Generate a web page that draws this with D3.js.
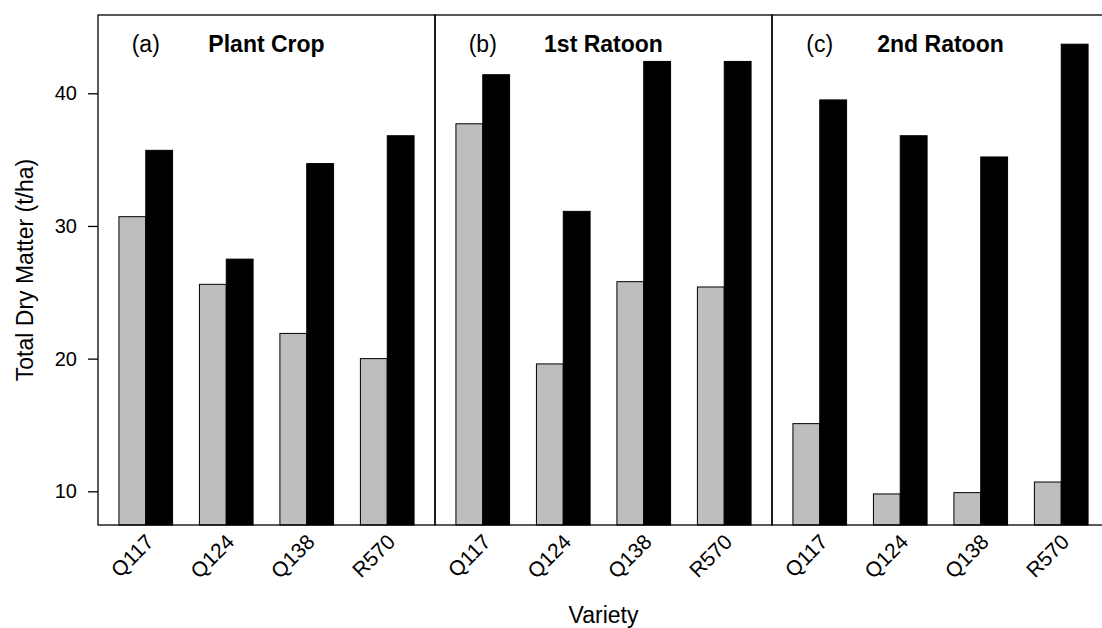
<!DOCTYPE html>
<html>
<head>
<meta charset="utf-8">
<script src="https://cdn.jsdelivr.net/npm/d3@7"></script>
<style>
  html, body { margin: 0; padding: 0; background: #fff; }
  svg { display: block; font-family: "Liberation Sans", Arial, sans-serif; }
</style>
</head>
<body>
<svg id="chart" width="1102" height="628"></svg>
<script>
// Total dry matter (t/ha) by variety for the plant crop and two ratoons
const varieties = ["Q117", "Q124", "Q138", "R570"];
const panels = ["Plant Crop", "1st Ratoon", "2nd Ratoon"];
const panelTags = ["(a)", "(b)", "(c)"];
const series = ["grey", "black"];
const greyValues = [
  [30.7, 25.6, 21.9, 20.0],
  [37.7, 19.6, 25.8, 25.4],
  [15.1, 9.8, 9.9, 10.7]
];
const blackValues = [
  [35.7, 27.5, 34.7, 36.8],
  [41.4, 31.1, 42.4, 42.4],
  [39.5, 36.8, 35.2, 43.7]
];
const yTicks = [10, 20, 30, 40];
const yLimits = [7.46, 45.9];

const svg = d3.select("#chart");
const plotTop = 15, plotBottom = 525, plotLeft = 98, panelW = 337;
const fills = { grey: "#bebebe", black: "#000000" };

const y = d3.scaleLinear().domain(yLimits).range([plotBottom, plotTop]);
const panelX = d3.scaleBand().domain(panels)
  .range([plotLeft, plotLeft + panelW * panels.length]).padding(0);
const groupX = d3.scaleBand().domain(varieties)
  .range([0, panelW]).paddingInner(1 / 3).paddingOuter(0.26);
const barX = d3.scaleBand().domain(series).range([0, groupX.bandwidth()]);

panels.forEach((p, i) => {
  const g = svg.append("g").attr("transform", `translate(${panelX(p)},0)`);
  const rows = varieties.map((v, j) => ({
    variety: v,
    vals: [{ s: "grey", v: greyValues[i][j] }, { s: "black", v: blackValues[i][j] }]
  }));

  const grp = g.selectAll("g.grp").data(rows).join("g")
    .attr("class", "grp")
    .attr("transform", d => `translate(${groupX(d.variety)},0)`);
  grp.selectAll("rect").data(d => d.vals).join("rect")
    .attr("x", d => barX(d.s))
    .attr("width", barX.bandwidth())
    .attr("y", d => y(d.v))
    .attr("height", d => plotBottom - y(d.v))
    .attr("fill", d => fills[d.s])
    .attr("stroke", "#000")
    .attr("stroke-width", 1);

  // panel frame
  g.append("rect")
    .attr("x", 0).attr("y", plotTop)
    .attr("width", panelW).attr("height", plotBottom - plotTop)
    .attr("fill", "none").attr("stroke", "#000").attr("stroke-width", 1.3);

  // panel tag and title
  g.append("text")
    .attr("x", groupX(varieties[0]) + groupX.bandwidth() / 2)
    .attr("y", 52)
    .attr("text-anchor", "middle")
    .attr("font-size", 23)
    .text(panelTags[i]);
  g.append("text")
    .attr("x", panelW / 2)
    .attr("y", 52)
    .attr("text-anchor", "middle")
    .attr("font-size", 23)
    .attr("font-weight", "bold")
    .text(p);

  // rotated variety labels
  g.selectAll("text.xlab").data(varieties).join("text")
    .attr("class", "xlab")
    .attr("font-size", 21)
    .attr("text-anchor", "end")
    .attr("dominant-baseline", "central")
    .attr("transform", d =>
      `translate(${groupX(d) + groupX.bandwidth() / 2 + 4},${plotBottom + 13}) rotate(-45)`)
    .text(d => d);
});

// y axis on the first panel
const yAxis = svg.append("g")
  .attr("transform", `translate(${plotLeft},0)`)
  .call(d3.axisLeft(y).tickValues(yTicks).tickSize(10).tickPadding(11));
yAxis.select(".domain").remove();
yAxis.selectAll("line").attr("stroke", "#000").attr("stroke-width", 1.3);
yAxis.selectAll("text").attr("font-size", 20).attr("fill", "#000")
  .attr("font-family", "Liberation Sans, Arial, sans-serif");

// axis titles
svg.append("text")
  .attr("transform", `translate(33,${(plotTop + plotBottom) / 2}) rotate(-90)`)
  .attr("text-anchor", "middle")
  .attr("font-size", 23)
  .text("Total Dry Matter (t/ha)");
svg.append("text")
  .attr("x", plotLeft + panelW * panels.length / 2)
  .attr("y", 623)
  .attr("text-anchor", "middle")
  .attr("font-size", 23)
  .text("Variety");
</script>
</body>
</html>
